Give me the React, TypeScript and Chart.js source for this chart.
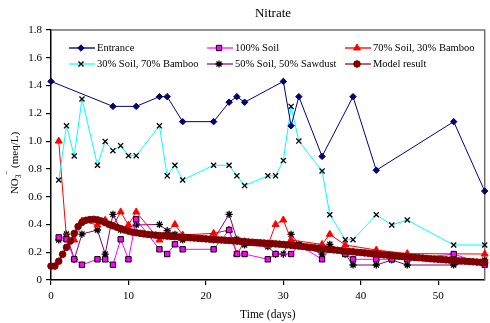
import { useEffect, useRef } from 'react';
import { Chart, registerables } from 'chart.js';
import { drawPoint } from 'chart.js/helpers';

Chart.register(...registerables);

const FONT = '"Liberation Serif", "DejaVu Serif", serif';

const chartTitle = 'Nitrate';
const xTitle = 'Time (days)';

const entranceDays = [0, 8, 11, 14, 15, 17, 21, 23, 24, 25, 30, 31, 32, 35, 39, 42, 52, 56];
const entranceValues = [1.43, 1.25, 1.25, 1.32, 1.32, 1.14, 1.14, 1.28, 1.32, 1.28, 1.43, 1.11, 1.32, 0.89, 1.32, 0.79, 1.14, 0.64];

const soilDays = [1, 2, 3, 4, 6, 7, 8, 9, 10, 11, 14, 15, 16, 17, 21, 23, 24, 25, 28, 29, 31, 32, 35, 36, 38, 39, 42, 44, 46, 52, 56];
const soilValues = [0.307, 0.293, 0.149, 0.11, 0.149, 0.149, 0.11, 0.293, 0.149, 0.437, 0.221, 0.187, 0.257, 0.221, 0.221, 0.36, 0.187, 0.187, 0.149, 0.187, 0.187, 0.25, 0.149, 0.22, 0.187, 0.149, 0.149, 0.149, 0.149, 0.187, 0.11];

const bamboo30Days = [1, 2, 3, 4, 6, 7, 8, 9, 10, 11, 14, 16, 17, 21, 23, 24, 25, 28, 29, 30, 31, 35, 36, 38, 42, 46, 56];
const bamboo30Values = [1.0, 0.3, 0.288, 0.425, 0.396, 0.43, 0.39, 0.49, 0.396, 0.49, 0.288, 0.4, 0.324, 0.336, 0.36, 0.187, 0.276, 0.25, 0.4, 0.432, 0.288, 0.256, 0.329, 0.252, 0.216, 0.19, 0.187];

const bamboo70Days = [1, 2, 3, 4, 6, 7, 8, 9, 10, 11, 14, 15, 16, 17, 21, 23, 24, 25, 28, 29, 30, 31, 32, 35, 36, 38, 39, 42, 44, 46, 52, 56];
const bamboo70Values = [0.72, 1.11, 0.893, 1.303, 0.826, 0.998, 0.931, 0.967, 0.895, 0.895, 1.11, 0.75, 0.826, 0.72, 0.826, 0.826, 0.75, 0.68, 0.75, 0.75, 0.86, 1.25, 1.0, 0.785, 0.47, 0.29, 0.29, 0.47, 0.396, 0.432, 0.252, 0.252];

const sawdustDays = [1, 2, 3, 4, 6, 7, 8, 9, 11, 14, 15, 16, 17, 21, 23, 24, 25, 28, 29, 30, 31, 32, 35, 36, 38, 39, 42, 44, 46, 52, 56];
const sawdustValues = [0.288, 0.331, 0.149, 0.331, 0.36, 0.187, 0.473, 0.36, 0.396, 0.4, 0.355, 0.329, 0.288, 0.29, 0.473, 0.293, 0.252, 0.24, 0.187, 0.187, 0.329, 0.257, 0.187, 0.257, 0.187, 0.108, 0.108, 0.144, 0.108, 0.108, 0.144];

const modelDays = [
  0, 0.5, 1, 1.5, 2, 2.5, 3, 3.5, 4, 4.5, 5, 5.5, 6, 6.5, 7, 7.5, 8, 8.5, 9, 9.5,
  10, 10.5, 11, 11.5, 12, 12.5, 13, 13.5, 14, 14.5, 15, 15.5, 16, 16.5, 17, 17.5, 18, 18.5, 19, 19.5,
  20, 20.5, 21, 21.5, 22, 22.5, 23, 23.5, 24, 24.5, 25, 25.5, 26, 26.5, 27, 27.5, 28, 28.5, 29, 29.5,
  30, 30.5, 31, 31.5, 32, 32.5, 33, 33.5, 34, 34.5, 35, 35.5, 36, 36.5, 37, 37.5, 38, 38.5, 39, 39.5,
  40, 40.5, 41, 41.5, 42, 42.5, 43, 43.5, 44, 44.5, 45, 45.5, 46, 46.5, 47, 47.5, 48, 48.5, 49, 49.5,
  50, 50.5, 51, 51.5, 52, 52.5, 53, 53.5, 54, 54.5, 55, 55.5, 56,
];
const modelValues = [
  0.1, 0.1, 0.135, 0.185, 0.235, 0.28, 0.335, 0.385, 0.415, 0.43, 0.435, 0.437, 0.433, 0.425, 0.413, 0.4, 0.39, 0.38, 0.37, 0.36,
  0.352, 0.345, 0.34, 0.336, 0.332, 0.328, 0.325, 0.323, 0.32, 0.318, 0.316, 0.314, 0.312, 0.31, 0.308, 0.306, 0.304, 0.302, 0.3, 0.298,
  0.296, 0.294, 0.292, 0.29, 0.288, 0.286, 0.284, 0.282, 0.28, 0.278, 0.276, 0.274, 0.272, 0.27, 0.268, 0.266, 0.264, 0.262, 0.26, 0.258,
  0.256, 0.253, 0.25, 0.247, 0.244, 0.241, 0.238, 0.235, 0.232, 0.229, 0.226, 0.223, 0.22, 0.217, 0.214, 0.211, 0.208, 0.205, 0.203, 0.2,
  0.198, 0.195, 0.192, 0.189, 0.187, 0.184, 0.181, 0.179, 0.176, 0.174, 0.171, 0.169, 0.167, 0.164, 0.162, 0.16, 0.158, 0.155, 0.153, 0.151,
  0.149, 0.147, 0.145, 0.143, 0.141, 0.139, 0.137, 0.135, 0.133, 0.131, 0.129, 0.127, 0.125,
];

const pts = (xs: number[], ys: number[]) => xs.map((x, i) => ({ x, y: ys[i] }));

type Series = {
  label: string;
  days: number[];
  values: number[];
  color: string;
  legendColor: string;
  pointStyle: string;
  radius: number;
  fill: string;
  stroke: string;
  lineWidth: number;
  markerBorder: number;
  order: number;
};

const series: Series[] = [
  { label: 'Entrance', days: entranceDays, values: entranceValues, color: '#000080', legendColor: '#5555aa', pointStyle: 'rectRot', radius: 3.2, fill: '#000080', stroke: '#000040', lineWidth: 1, markerBorder: 1, order: 2 },
  { label: '100% Soil', days: soilDays, values: soilValues, color: '#ff00ff', legendColor: '#ff66ff', pointStyle: 'rect', radius: 3.8, fill: '#ff00ff', stroke: '#000000', lineWidth: 1, markerBorder: 1, order: 4 },
  { label: '70% Soil, 30% Bamboo', days: bamboo30Days, values: bamboo30Values, color: '#ff0000', legendColor: '#ff5555', pointStyle: 'triangle', radius: 4, fill: '#ff0000', stroke: '#ff0000', lineWidth: 1, markerBorder: 1, order: 5 },
  { label: '30% Soil, 70% Bamboo', days: bamboo70Days, values: bamboo70Values, color: '#00ffff', legendColor: '#00ffff', pointStyle: 'crossRot', radius: 3.6, fill: '#000000', stroke: '#000000', lineWidth: 1, markerBorder: 1.3, order: 3 },
  { label: '50% Soil, 50% Sawdust', days: sawdustDays, values: sawdustValues, color: '#800080', legendColor: '#800080', pointStyle: 'star', radius: 3.6, fill: '#000000', stroke: '#000000', lineWidth: 1, markerBorder: 1.3, order: 6 },
  { label: 'Model result', days: modelDays, values: modelValues, color: '#800000', legendColor: '#800000', pointStyle: 'circle', radius: 3.3, fill: '#800000', stroke: '#800000', lineWidth: 2, markerBorder: 1, order: 1 },
];

const legendCols = [18, 156, 294];
const legendRows = [18, 34];

const decorPlugin = {
  id: 'decor',
  beforeDatasetsDraw(chart: any) {
    const { ctx, chartArea } = chart;
    ctx.save();
    ctx.strokeStyle = '#707070';
    ctx.lineWidth = 1.5;
    ctx.beginPath();
    ctx.moveTo(chartArea.left, chartArea.top);
    ctx.lineTo(chartArea.right, chartArea.top);
    ctx.lineTo(chartArea.right, chartArea.bottom);
    ctx.stroke();
    ctx.restore();
  },
  afterDraw(chart: any) {
    const { ctx, chartArea } = chart;
    ctx.save();
    // title
    ctx.fillStyle = '#000';
    ctx.font = `13px ${FONT}`;
    ctx.textAlign = 'center';
    ctx.textBaseline = 'middle';
    ctx.fillText(chartTitle, 273, 14);

    // legend
    ctx.font = `10.5px ${FONT}`;
    ctx.textAlign = 'left';
    series.forEach((s, i) => {
      const x0 = chartArea.left + legendCols[i % 3];
      const y = chartArea.top + legendRows[Math.floor(i / 3)];
      ctx.strokeStyle = s.legendColor;
      ctx.lineWidth = i < 3 ? 2 : 1.2;
      ctx.beginPath();
      ctx.moveTo(x0, y);
      ctx.lineTo(x0 + 26, y);
      ctx.stroke();
      ctx.fillStyle = s.fill;
      ctx.strokeStyle = s.stroke;
      ctx.lineWidth = s.markerBorder;
      drawPoint(ctx, { pointStyle: s.pointStyle as any, radius: s.radius, rotation: 0, borderWidth: s.markerBorder }, x0 + 12, y);
      ctx.fillStyle = '#000';
      ctx.fillText(s.label, x0 + 28, y + 0.5);
    });

    // y axis title: NO3- (meq/L)
    const big = `11px ${FONT}`;
    const small = `7.5px ${FONT}`;
    const parts = [
      { t: 'NO', f: big, dy: 0 },
      { t: '3', f: small, dy: 2.5 },
      { t: '\u00AF', f: small, dy: -5 },
      { t: ' (meq/L)', f: big, dy: 0 },
    ];
    let w = 0;
    parts.forEach((p) => { ctx.font = p.f; w += ctx.measureText(p.t).width; });
    ctx.translate(14.5, 163);
    ctx.rotate(-Math.PI / 2);
    ctx.textBaseline = 'alphabetic';
    ctx.textAlign = 'left';
    ctx.fillStyle = '#000';
    let cx = -w / 2;
    parts.forEach((p) => {
      ctx.font = p.f;
      ctx.fillText(p.t, cx, 3.5 + p.dy);
      cx += ctx.measureText(p.t).width;
    });
    ctx.restore();
  },
};

export default function App() {
  const ref = useRef<HTMLCanvasElement | null>(null);
  useEffect(() => {
    if (!ref.current) return;
    const tickFont = { family: FONT, size: 11 };
    const chart = new Chart(ref.current, {
      type: 'line',
      data: {
        datasets: series.map((s) => ({
          label: s.label,
          data: pts(s.days, s.values),
          borderColor: s.color,
          backgroundColor: s.fill,
          borderWidth: s.lineWidth,
          pointStyle: s.pointStyle as any,
          pointRadius: s.radius,
          pointBackgroundColor: s.fill,
          pointBorderColor: s.stroke,
          pointBorderWidth: s.markerBorder,
          tension: 0,
          fill: false,
          clip: false as any,
          order: s.order,
        })),
      },
      options: {
        animation: false,
        responsive: true,
        maintainAspectRatio: false,
        layout: { padding: { top: 30, right: 5, left: 0, bottom: 0 } },
        plugins: { legend: { display: false }, title: { display: false }, tooltip: { enabled: false } },
        scales: {
          x: {
            type: 'linear',
            min: 0,
            max: 56,
            ticks: { stepSize: 10, font: tickFont, color: '#000', padding: 5, maxRotation: 0 },
            grid: { drawOnChartArea: false, drawTicks: true, tickLength: 5, tickColor: '#000', lineWidth: 1.2 },
            border: { display: true, color: '#000', width: 1.5 },
            title: { display: true, text: xTitle, color: '#000', font: { family: FONT, size: 11.5 }, padding: { top: 0, bottom: 1 } },
            afterBuildTicks: (s: any) => { s.ticks = s.ticks.filter((t: any) => Math.abs(t.value % 10) < 1e-9); },
            afterFit: (s: any) => { s.height = 43; },
          },
          y: {
            type: 'linear',
            min: 0,
            max: 1.8,
            ticks: { stepSize: 0.2, font: tickFont, color: '#000', padding: 4 },
            grid: { drawOnChartArea: false, drawTicks: true, tickLength: 5, tickColor: '#000', lineWidth: 1.2 },
            border: { display: true, color: '#000', width: 1.5 },
            afterFit: (s: any) => { s.width = 51; },
          },
        },
      },
      plugins: [decorPlugin],
    });
    return () => chart.destroy();
  }, []);
  return (
    <div style={{ position: 'fixed', left: 0, top: 0, width: 490, height: 323, background: '#fff' }}>
      <canvas ref={ref} />
    </div>
  );
}
